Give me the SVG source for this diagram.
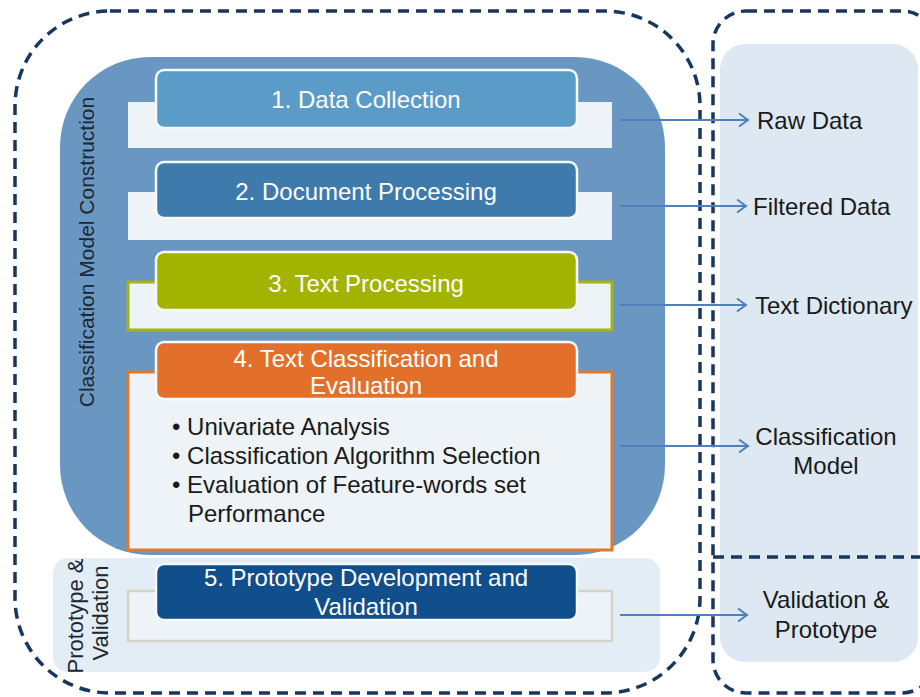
<svg xmlns="http://www.w3.org/2000/svg" width="920" height="697" viewBox="0 0 920 697">
  <defs>
    <marker id="chev" markerUnits="userSpaceOnUse" markerWidth="14" markerHeight="16" refX="11" refY="8" orient="auto">
      <path d="M2,1.5 L11,8 L2,14.5" fill="none" stroke="#4f7fbd" stroke-width="2"/>
    </marker>
  </defs>
  <style>
    text { font-family: "Liberation Sans", Arial, sans-serif; }
    .dash { fill: none; stroke: #17375e; stroke-width: 3.5; stroke-dasharray: 11 7; }
    .back { fill: #eef3f8; }
    .front { stroke: #f6f9fc; stroke-width: 2.5; }
    .title { fill: #ffffff; font-size: 24px; text-anchor: middle; }
    .body { fill: #1a1a1a; font-size: 24px; }
    .label { fill: #1a1a1a; font-size: 24px; }
    .side { fill: #1c2733; font-size: 21px; text-anchor: middle; }
    .arrow { stroke: #4f7fbd; stroke-width: 2; fill: none; marker-end: url(#chev); }
  </style>

  <rect width="920" height="697" fill="#ffffff"/>

  <!-- outputs column -->
  <g id="outputs-panel">
    <rect x="720" y="44" width="198" height="618" rx="25" fill="#dde8f2"/>
    <rect class="dash" x="713" y="11" width="222" height="682" rx="33"/>
    <line class="dash" x1="713" y1="557" x2="920" y2="557"/>
  </g>

  <!-- process frame -->
  <g id="process-frame">
    <rect class="dash" x="15" y="11" width="685" height="682" rx="95"/>
  </g>

  <!-- phase backgrounds -->
  <g id="phase-construction">
    <rect x="60" y="57" width="605" height="498" rx="90" fill="#6a97c1"/>
    <text class="side" transform="translate(94,252) rotate(-90)">Classification Model Construction</text>
  </g>
  <g id="phase-prototype">
    <rect x="53" y="558" width="607" height="114" rx="15" fill="#e3edf6"/>
    <text class="side" style="font-size:22px" transform="translate(83,613) rotate(-90)">
      <tspan x="0" y="0">Prototype &amp;</tspan>
      <tspan x="0" y="25">Validation</tspan>
    </text>
  </g>

  <!-- step 1 -->
  <g id="step1">
    <rect class="back" x="128" y="102" width="484" height="46"/>
    <rect class="front" x="156" y="70" width="421" height="58" rx="8" fill="#5b9bc8"/>
    <text class="title" x="366" y="108">1. Data Collection</text>
  </g>

  <!-- step 2 -->
  <g id="step2">
    <rect class="back" x="128" y="192" width="484" height="48"/>
    <rect class="front" x="156" y="162" width="421" height="56" rx="8" fill="#3e7aab"/>
    <text class="title" x="366" y="200">2. Document Processing</text>
  </g>

  <!-- step 3 -->
  <g id="step3">
    <rect class="back" x="128" y="282" width="484" height="48" stroke="#a2b41c" stroke-width="3"/>
    <rect class="front" x="156" y="252" width="421" height="58" rx="8" fill="#a2b300"/>
    <text class="title" x="366" y="292">3. Text Processing</text>
  </g>

  <!-- step 4 -->
  <g id="step4">
    <rect class="back" x="128" y="372" width="484" height="178" stroke="#e0782e" stroke-width="3" fill="#f1f5f9"/>
    <rect class="front" x="156" y="342" width="421" height="57" rx="8" fill="#e2702a"/>
    <text class="title" x="366" y="367">4. Text Classification and</text>
    <text class="title" x="366" y="394">Evaluation</text>
    <text class="body" x="172" y="435">• Univariate Analysis</text>
    <text class="body" x="172" y="464">• Classification Algorithm Selection</text>
    <text class="body" x="172" y="493">• Evaluation of Feature-words set</text>
    <text class="body" x="188" y="522">Performance</text>
  </g>

  <!-- step 5 -->
  <g id="step5">
    <rect class="back" x="128" y="591" width="484" height="50" stroke="#d6d1c6" stroke-width="2.5" fill="#f7f9fc"/>
    <rect class="front" x="156" y="564" width="421" height="56" rx="8" fill="#104e8c"/>
    <text class="title" x="366" y="586">5. Prototype Development and</text>
    <text class="title" x="366" y="615">Validation</text>
  </g>

  <!-- connectors -->
  <g id="connectors">
    <line class="arrow" x1="620" y1="120" x2="748" y2="120"/>
    <line class="arrow" x1="620" y1="206" x2="746" y2="206"/>
    <line class="arrow" x1="620" y1="305" x2="746" y2="305"/>
    <line class="arrow" x1="620" y1="446" x2="748" y2="446"/>
    <line class="arrow" x1="620" y1="615" x2="747" y2="615"/>
  </g>

  <!-- outputs -->
  <g id="out-raw"><text class="label" x="757" y="129">Raw Data</text></g>
  <g id="out-filtered"><text class="label" x="753" y="215">Filtered Data</text></g>
  <g id="out-dictionary"><text class="label" x="755" y="314">Text Dictionary</text></g>
  <g id="out-model">
    <text class="label" x="826" y="445" text-anchor="middle">Classification</text>
    <text class="label" x="826" y="474" text-anchor="middle">Model</text>
  </g>
  <g id="out-validation">
    <text class="label" x="826" y="608" text-anchor="middle">Validation &amp;</text>
    <text class="label" x="826" y="638" text-anchor="middle">Prototype</text>
  </g>
</svg>
